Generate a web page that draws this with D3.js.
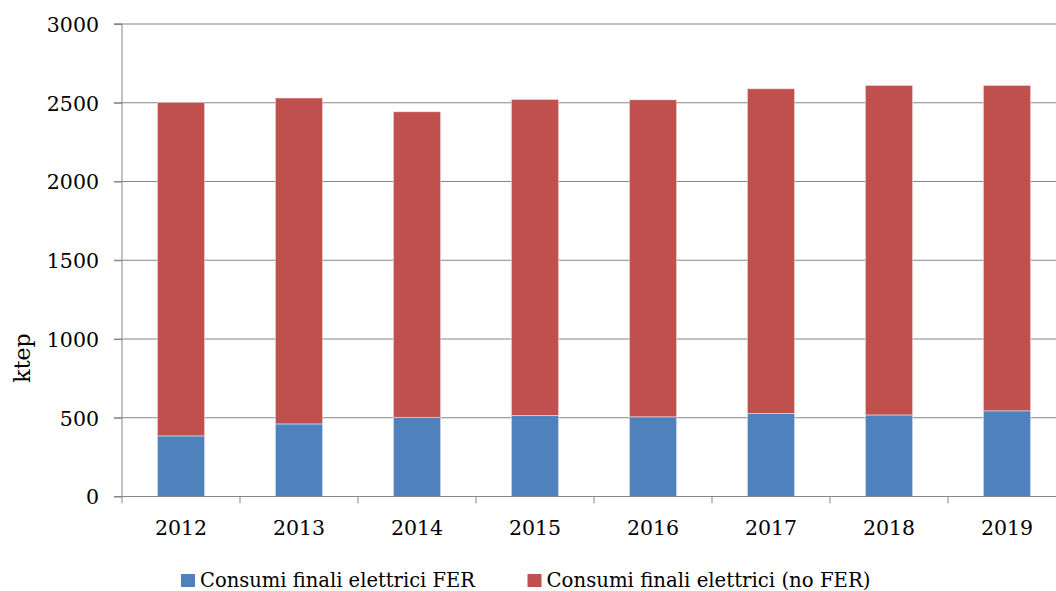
<!DOCTYPE html>
<html><head><meta charset="utf-8">
<script src="https://cdn.jsdelivr.net/npm/d3@7"></script>
<style>
html,body{margin:0;padding:0;background:#fff;}
svg{display:block;}
text{font-family:"DejaVu Serif",serif;fill:#000;}
</style></head>
<body>
<svg id="chart" width="1056" height="591"></svg>
<script>
const years = ["2012","2013","2014","2015","2016","2017","2018","2019"];
const fer = [385, 461, 502, 514, 506, 527, 518, 544];
const noFer = [2117, 2069, 1941, 2007, 2013, 2062, 2092, 2066];
const yTicks = [0, 500, 1000, 1500, 2000, 2500, 3000];
const seriesNames = ["Consumi finali elettrici FER", "Consumi finali elettrici (no FER)"];
const seriesColors = ["#4F81BD", "#C0504D"];
const yLabel = "ktep";

(function () {
const svg = d3.select("#chart");
const pLeft = 122, pRight = 1066, pTop = 24, pBottom = 496.5;

const x = d3.scaleBand().domain(years).range([pLeft, pRight]).paddingInner(0.6).paddingOuter(0.3);
const y = d3.scaleLinear().domain([0, 3000]).range([pBottom, pTop]);

// gridlines
svg.append("g").selectAll("line").data(yTicks.filter(d => d > 0)).join("line")
  .attr("x1", pLeft - 8).attr("x2", 1056)
  .attr("y1", d => y(d)).attr("y2", d => y(d))
  .attr("stroke", "#868686").attr("stroke-width", 1);

// stacked bars
const rows = years.map((yr, i) => ({year: yr, fer: fer[i], noFer: noFer[i]}));
const stack = d3.stack().keys(["fer", "noFer"])(rows);
svg.append("g").selectAll("g").data(stack).join("g")
  .attr("fill", (d, i) => seriesColors[i])
  .selectAll("rect").data(d => d).join("rect")
  .attr("x", d => x(d.data.year))
  .attr("width", x.bandwidth())
  .attr("y", d => y(d[1]))
  .attr("height", d => y(d[0]) - y(d[1]))
  .attr("stroke", "rgba(255,255,255,0.45)").attr("stroke-width", 1);

// y axis
const yAxis = d3.axisLeft(y).tickValues(yTicks).tickSize(8).tickPadding(15).tickFormat(d3.format("d"));
const gy = svg.append("g").attr("transform", `translate(${pLeft},0)`).call(yAxis);
gy.select(".domain").attr("stroke", "#868686").attr("d", `M-8,${pBottom}H0V${pTop}H-8`);
gy.selectAll(".tick line").attr("stroke", "#868686");
gy.selectAll(".tick text").attr("font-size", 20.5).attr("font-family", "DejaVu Serif").attr("fill", "#000").attr("dy", "0.36em");

// x axis
const xAxis = d3.axisBottom(x).tickSize(0).tickPadding(24);
const gx = svg.append("g").attr("transform", `translate(0,${pBottom})`).call(xAxis);
gx.select(".domain").attr("stroke", "#868686").attr("d", `M${pLeft},0H${pRight}`);
gx.selectAll(".tick text").attr("font-size", 20.5).attr("font-family", "DejaVu Serif").attr("fill", "#000");
const step = x.step();
const bounds = d3.range(years.length + 1).map(i => pLeft + i * step);
gx.append("g").selectAll("line").data(bounds).join("line")
  .attr("x1", d => d).attr("x2", d => d).attr("y1", 0).attr("y2", 7)
  .attr("stroke", "#868686");

// y label
svg.append("text").attr("transform", "translate(29.5,358) rotate(-90)")
  .attr("text-anchor", "middle").attr("font-size", 22).text(yLabel);

// legend
const legendX = [181, 527.5];
const legendW = [275, 324];
const lg = svg.append("g").selectAll("g").data(seriesNames).join("g")
  .attr("transform", (d, i) => `translate(${legendX[i]},0)`);
lg.append("rect").attr("x", 0).attr("y", 574).attr("width", 14).attr("height", 13)
  .attr("fill", (d, i) => seriesColors[i]);
lg.append("text").attr("x", 19).attr("y", 587).attr("font-size", 21)
  .attr("textLength", (d, i) => legendW[i]).attr("lengthAdjust", "spacingAndGlyphs")
  .text(d => d);
})();
</script>
</body></html>
